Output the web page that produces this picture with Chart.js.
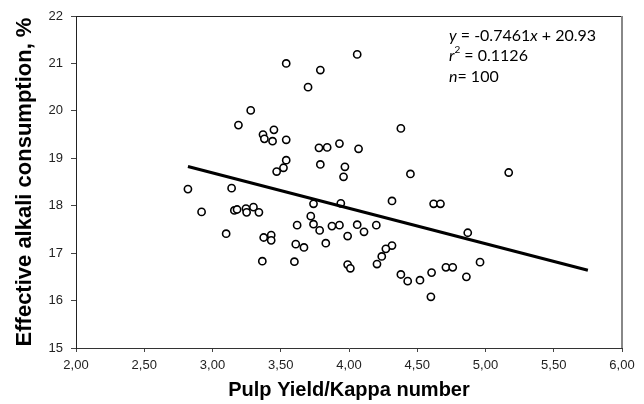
<!DOCTYPE html>
<html>
<head>
<meta charset="utf-8">
<script src="https://cdn.jsdelivr.net/npm/chart.js@4/dist/chart.umd.min.js"></script>
<style>
  html, body { margin: 0; padding: 0; background: #fff; }
  #wrap { width: 644px; height: 404px; }
</style>
</head>
<body>
<div id="wrap"><canvas id="c" width="644" height="404"></canvas></div>
<script>
// ---- Data ----
const pulpYieldKappa = [
  3.54, 3.70, 3.28, 3.19, 3.45, 3.37, 3.38, 3.44, 3.54, 3.54,
  3.52, 3.47, 2.82, 3.14, 4.06, 3.79, 4.38, 3.78, 3.84, 3.93,
  4.07, 3.79, 3.97, 3.96, 4.45, 5.17, 4.87, 4.96, 4.86, 2.92,
  3.16, 3.18, 3.245, 3.25, 3.30, 3.34, 3.10, 3.375, 3.43, 3.43,
  3.365, 3.60, 3.62, 3.61, 3.67, 3.74, 3.94, 4.315, 4.62, 4.67,
  3.72, 3.74, 3.785, 3.875, 3.93, 4.06, 4.11, 4.20, 3.99, 3.83,
  4.315, 4.27, 4.24, 4.205, 3.99, 4.01, 4.38, 4.43, 4.52, 4.605,
  4.60, 4.71, 4.76
];
const alkaliConsumption = [
  21.00, 20.50, 20.01, 19.70, 19.60, 19.50, 19.41, 19.36, 19.39, 18.96,
  18.80, 18.72, 18.35, 18.37, 21.19, 20.86, 19.63, 19.22, 19.23, 19.31,
  19.20, 18.87, 18.82, 18.61, 18.67, 18.70, 17.43, 16.81, 16.50, 17.87,
  17.90, 17.92, 17.94, 17.86, 17.97, 17.86, 17.41, 17.33, 17.38, 17.27,
  16.83, 16.82, 17.59, 17.19, 17.12, 18.04, 18.05, 18.10, 18.04, 18.04,
  17.78, 17.61, 17.48, 17.57, 17.59, 17.60, 17.45, 17.59, 17.36, 17.21,
  17.16, 17.09, 16.93, 16.77, 16.76, 16.68, 16.55, 16.41, 16.43, 16.59,
  16.08, 16.70, 16.70
];
// Regression shown on the chart
const trendSlope = -0.7461;
const trendIntercept = 20.93;
const trendX = [2.82, 5.75];
const xTickLabels = ['2,00','2,50','3,00','3,50','4,00','4,50','5,00','5,50','6,00'];
const yTickLabels = ['15','16','17','18','19','20','21','22'];
const xTitle = 'Pulp Yield/Kappa number';
const yTitle = 'Effective alkali consumption, %';

// ---- Build datasets ----
const scatterPoints = pulpYieldKappa.map((x, i) => ({ x: x, y: alkaliConsumption[i] }));
const trendPoints = trendX.map(x => ({ x: x, y: trendSlope * x + trendIntercept }));

const boxPlugin = {
  id: 'boxAndNote',
  afterDraw(chart) {
    const { ctx, chartArea: a } = chart;
    ctx.save();
    // top and right frame lines
    ctx.lineWidth = 1;
    ctx.strokeStyle = '#222';
    ctx.beginPath();
    ctx.moveTo(a.left, a.top + 0.5);
    ctx.lineTo(a.right, a.top + 0.5);
    ctx.stroke();
    ctx.strokeStyle = '#888';
    ctx.lineWidth = 2;
    ctx.beginPath();
    ctx.moveTo(a.right, a.top);
    ctx.lineTo(a.right, a.bottom);
    ctx.stroke();

    // regression annotation
    const fam = 'Lato, "Open Sans", sans-serif';
    const size = 16;
    ctx.fillStyle = '#000';
    ctx.textBaseline = 'alphabetic';
    ctx.textAlign = 'left';
    const x0 = a.right - 173;
    function seg(parts, y) {
      let x = x0;
      parts.forEach(p => {
        ctx.font = (p.it ? 'italic ' : '') + (p.sz || size) + 'px ' + fam;
        ctx.fillText(p.t, x, y + (p.dy || 0));
        x += ctx.measureText(p.t).width;
      });
    }
    seg([{t:'y', it:true}, {t:' = -0.7461'}, {t:'x', it:true}, {t:' + 20.93'}], a.top + 25);
    seg([{t:'r', it:true}, {t:'2', sz:10, dy:-8}, {t:' = 0.1126'}], a.top + 45);
    seg([{t:'n', it:true}, {t:'= 100'}], a.top + 66);
    ctx.restore();
  }
};

new Chart(document.getElementById('c'), {
  type: 'scatter',
  data: {
    datasets: [
      {
        type: 'line',
        data: trendPoints,
        borderColor: '#000',
        borderWidth: 3,
        pointRadius: 0,
        fill: false,
        tension: 0
      },
      {
        data: scatterPoints,
        pointStyle: 'circle',
        pointRadius: 3.6,
        pointBorderWidth: 1.6,
        pointBackgroundColor: '#fff',
        pointBorderColor: '#000',
        showLine: false
      }
    ]
  },
  options: {
    responsive: false,
    animation: false,
    devicePixelRatio: 1,
    layout: { padding: { top: 16, right: 22, left: 0, bottom: 0 } },
    plugins: { legend: { display: false }, tooltip: { enabled: false } },
    scales: {
      x: {
        type: 'linear',
        min: 2, max: 6,
        afterFit: s => { s.height = 56; },
        afterBuildTicks: s => { s.ticks = xTickLabels.map((_, i) => ({ value: 2 + i * 0.5 })); },
        grid: { drawOnChartArea: false, drawTicks: true, tickLength: 4, color: '#444' },
        border: { display: true, color: '#333', width: 1 },
        ticks: {
          color: '#222',
          font: { family: '"Liberation Sans", Arial, sans-serif', size: 13 },
          padding: 6,
          maxRotation: 0,
          callback: (v, i) => xTickLabels[i]
        },
        title: {
          display: true,
          text: xTitle,
          color: '#000',
          font: { family: '"Liberation Sans", Arial, sans-serif', size: 20, weight: 'bold' },
          padding: { top: 0, bottom: 2 }
        }
      },
      y: {
        type: 'linear',
        min: 15, max: 22,
        afterFit: s => { s.width = 76; },
        afterBuildTicks: s => { s.ticks = yTickLabels.map((_, i) => ({ value: 15 + i })); },
        grid: { drawOnChartArea: false, drawTicks: true, tickLength: 5, color: '#444' },
        border: { display: true, color: '#222', width: 1 },
        ticks: {
          color: '#222',
          font: { family: '"Liberation Sans", Arial, sans-serif', size: 13 },
          padding: 8,
          callback: (v, i) => yTickLabels[i]
        },
        title: {
          display: true,
          text: yTitle,
          color: '#000',
          font: { family: '"Liberation Sans", Arial, sans-serif', size: 22, weight: 'bold' },
          padding: { top: 12, bottom: 0 }
        }
      }
    }
  },
  plugins: [boxPlugin]
});
</script>
</body>
</html>
